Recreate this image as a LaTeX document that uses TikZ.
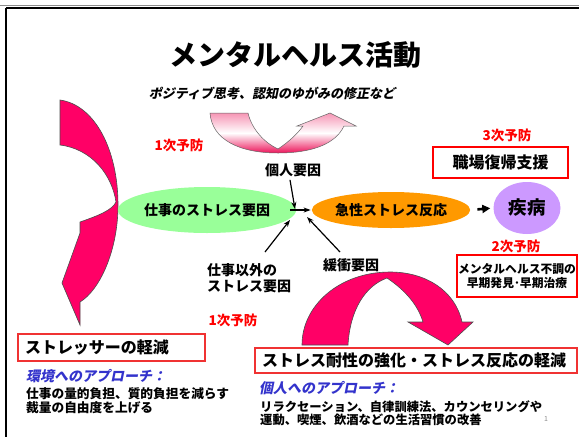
\documentclass[tikz,border=0pt]{standalone}
\usepackage{fontspec}
\setmainfont{Noto Sans CJK JP}
\newfontfamily\jpit{Noto Sans CJK JP}[FakeSlant=0.2]
\usetikzlibrary{arrows.meta,shapes.geometric,calc}
\definecolor{ppink}{RGB}{255,0,102}
\definecolor{gpink}{RGB}{236,20,90}
\definecolor{lgreen}{RGB}{153,255,153}
\definecolor{orng}{RGB}{255,153,0}
\definecolor{lpurp}{RGB}{204,153,255}
\definecolor{bluei}{RGB}{51,51,204}
\definecolor{rbox}{RGB}{240,50,50}
\newcommand{\fsz}[1]{\fontsize{#1}{#1}\selectfont}
\begin{document}
\begin{tikzpicture}[x=1pt,y=-1pt,
  txt/.style={inner sep=1pt, font=\fsz{14}\bfseries},
  redlbl/.style={inner sep=1pt, text=red, font=\fsz{13.5}\bfseries},
  ovalnode/.style={ellipse, inner sep=0pt, font=\fsz{14}\bfseries},
  bigarrow/.style={fill=ppink, draw=black!70, line width=0.6pt},
  conn/.style={-{Stealth[length=7pt,width=5pt]}, line width=1.2pt},
  redbox/.style={draw=rbox, line width=1.2pt, inner xsep=7pt, inner ysep=0pt, align=left},
  bluehead/.style={inner sep=0pt, anchor=west, text=bluei, font=\jpit\fsz{14}\bfseries},
  bodytxt/.style={inner sep=0pt, anchor=north west, align=left}
]
\useasboundingbox (0,0) rectangle (579,437);
\fill[white] (0,0) rectangle (579,437);
% slide frame
\draw[black!45, line width=1pt] (0,5.5) -- (579,5.5);
\draw[black, line width=2pt] (6,8) -- (579,8);
\draw[black, line width=2pt] (6,8) -- (6,437);

% title and subtitle
\node[inner sep=0pt, font=\fsz{28}\bfseries] (title) at (295,55) {メンタルヘルス活動};
\node[inner sep=0pt, font=\jpit\fsz{13}\bfseries] (sub) at (272,93) {ポジティブ思考、認知のゆがみの修正など};

% top U-turn arrow with gradient
\path[draw=black!60, line width=0.5pt, top color=white!55!gpink, bottom color=gpink, middle color=white]
  (210,113) -- (248,113) .. controls (252,130) and (265,143) .. (278,149)
  .. controls (290,141) and (298,133) .. (303,126) -- (297,126) -- (330,113) -- (356,126) -- (344,126)
  .. controls (335,145) and (310,153) .. (278,153) .. controls (240,153) and (212,140) .. (210,113) -- cycle;

% left big curved arrow
\path[bigarrow] (60,100) .. controls (95,105) and (118,150) .. (118,205)
  .. controls (118,250) and (100,290) .. (80,302) -- (80,325) -- (62,283) -- (80,233) -- (80,222)
  .. controls (100,215) and (112,210) .. (116,202) .. controls (112,175) and (92,149) .. (60,145) -- cycle;

% bottom big curved arrow
\path[bigarrow] (302,345) -- (348,345) .. controls (350,310) and (365,286) .. (387,278)
  .. controls (405,290) and (418,305) .. (423,322) -- (408,322) -- (448,345) -- (473,322) -- (462,322)
  .. controls (455,290) and (425,272) .. (390,272) .. controls (340,272) and (302,305) .. (302,345) -- cycle;

% red prevention labels
\node[redlbl] (p1a) at (179,145) {1次予防};
\node[redlbl] (p3) at (507,135) {3次予防};
\node[redlbl] (p2) at (516,246) {2次予防};
\node[redlbl] (p1b) at (233,320) {1次予防};

% ovals
\node[ovalnode, fill=lgreen, minimum width=157pt, minimum height=46pt] (work) at (207,210) {仕事のストレス要因};
\node[ovalnode, fill=orng, minimum width=138pt, minimum height=36pt] (acute) at (391,210) {急性ストレス反応};
\node[ovalnode, fill=lpurp, minimum width=67pt, minimum height=52pt, font=\fsz{18.5}\bfseries] (ill) at (527,208) {疾病};

% factor labels
\node[txt] (kojin) at (293,170) {個人要因};
\node[txt, align=left, anchor=north west, font=\fsz{14}\bfseries] (igai) at (206,262) {仕事以外の\\[2pt]ストレス要因};
\node[txt] (kanshou) at (351,265) {緩衝要因};

% connectors
\coordinate (j) at (295,209);
\coordinate (s1) at (265,252);
\coordinate (e1) at (290,220);
\coordinate (s2) at (340,252);
\coordinate (e2) at (307,217);
\draw[conn, shorten <=-6pt, shorten >=1pt] (work.east) -- (acute.west);
\draw[conn] (kojin.south) ++(-3,2) -- (j);
\draw[conn] (s1) -- (e1);
\draw[conn] (s2) -- (e2);
\draw[-{Triangle[length=8pt,width=8pt]}, line width=2.6pt, shorten <=7pt, shorten >=3pt] (acute.east) -- (ill.west);

% right boxes
\node[draw=red, line width=2pt, minimum width=135pt, minimum height=31pt, inner sep=0pt, font=\fsz{16}\bfseries] (reh) at (500.5,162.5) {職場復帰支援};
\node[draw=red, line width=1.5pt, minimum width=120pt, minimum height=42pt, inner sep=0pt, align=center, font=\fsz{11.8}\bfseries] (early) at (517,276) {メンタルヘルス不調の\\[3pt]早期発見･早期治療};

% bottom-left block
\node[redbox, minimum width=187pt, minimum height=27pt, text width=173pt, font=\fsz{16}\bfseries] (stressor) at (111.5,347.5) {ストレッサーの軽減};
\node[bluehead] (env) at (26,376) {環境へのアプローチ：};
\node[bodytxt, font=\fsz{12.7}\bfseries] (envtxt) at (26,387) {仕事の量的負担、質的負担を減らす\\[1.3pt]裁量の自由度を上げる};

% bottom-right block
\node[redbox, minimum width=322pt, minimum height=25pt, text width=308pt, font=\fsz{16}\bfseries] (resil) at (416,360.5) {ストレス耐性の強化・ストレス反応の軽減};
\node[bluehead] (ind) at (259,388) {個人へのアプローチ：};
\node[bodytxt, font=\fsz{12.3}\bfseries] (indtxt) at (260,400) {リラクセーション、自律訓練法、カウンセリングや\\[0.8pt]運動、喫煙、飲酒などの生活習慣の改善};

% page number
\node[inner sep=0pt, text=black!45, font=\fsz{7}] (pg) at (546,419) {1};
\end{tikzpicture}
\end{document}
